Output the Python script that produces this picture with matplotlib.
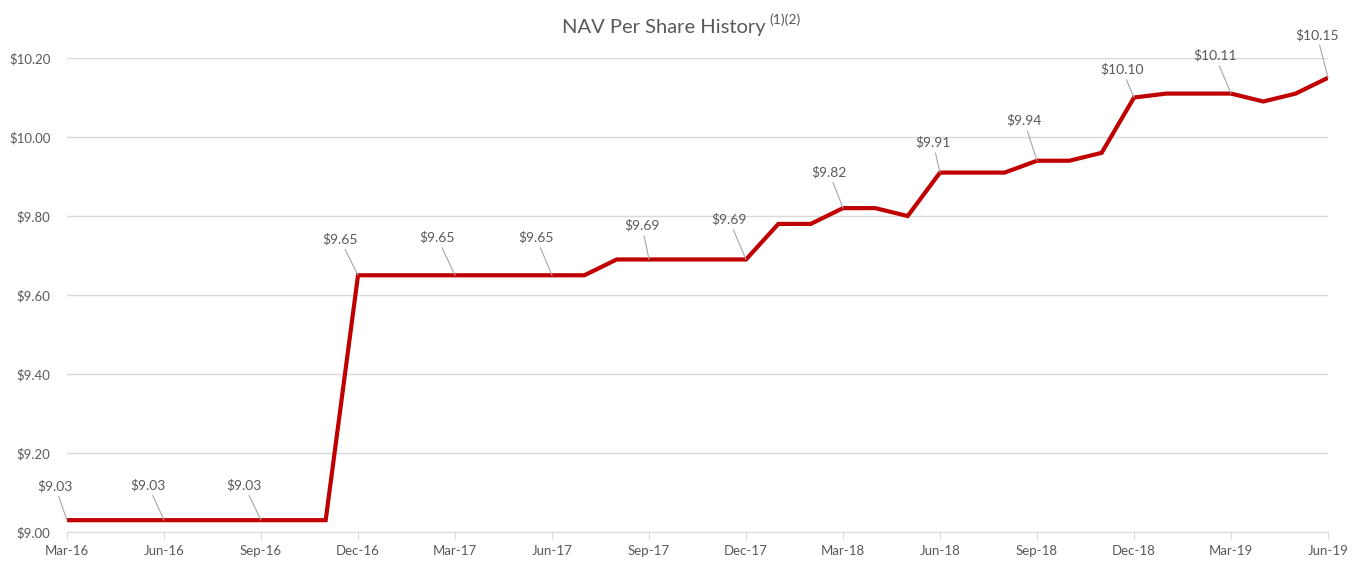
import matplotlib
matplotlib.use("Agg")
import matplotlib.pyplot as plt
from matplotlib.ticker import FuncFormatter, MultipleLocator
import pandas as pd

# month-end NAV values, Mar-16 .. Jun-19
months = pd.date_range("2016-03-01", "2019-06-01", freq="MS").strftime("%b-%y").tolist()
nav = [9.03, 9.03, 9.03, 9.03, 9.03, 9.03, 9.03, 9.03, 9.03,
       9.65, 9.65, 9.65, 9.65, 9.65, 9.65, 9.65, 9.65,
       9.69, 9.69, 9.69, 9.69, 9.69,
       9.78, 9.78, 9.82, 9.82, 9.80,
       9.91, 9.91, 9.91, 9.94, 9.94, 9.96,
       10.10, 10.11, 10.11, 10.11, 10.09, 10.11, 10.15]

# which points get a value label (quarter ends)
label_idx = list(range(0, len(months), 3))
# label offsets in pixels (dx, dy) from the point
label_offsets = [(-12, 34), (-16, 35), (-17, 35), (-18, 36), (-18, 38), (-16, 38), (-7, 34),
                 (-17, 40), (-14, 36), (-7, 30), (-13, 40), (-12, 28), (-16, 38), (-11, 43)]

plt.rcParams['font.family'] = ['Lato', 'DejaVu Sans']
txt = '#595959'
grid = '#D9D9D9'

fig = plt.figure(figsize=(13.65, 5.69), dpi=100)
ax = fig.add_axes([0.0491, 0.065, 0.9238, 0.833])

x = list(range(len(months)))
ax.plot(x, nav, color='#C00000', lw=3, solid_joinstyle='miter', zorder=3)

for i, (dx, dy) in zip(label_idx, label_offsets):
    ax.annotate('\\$%.2f' % nav[i], xy=(i, nav[i]), xytext=(dx, dy),
                textcoords='offset pixels', ha='center', va='center',
                fontsize=10, color=txt,
                arrowprops=dict(arrowstyle='-', color='#A6A6A6', lw=0.8,
                                shrinkA=1, shrinkB=0), zorder=4)

ax.set_xlim(0, len(months) - 1)
ax.set_ylim(9.0, 10.2)
ax.yaxis.set_major_locator(MultipleLocator(0.2))
ax.yaxis.set_major_formatter(FuncFormatter(lambda v, p: '\\$%.2f' % v))
ax.set_xticks(x[::3])
ax.set_xticklabels(months[::3])
ax.grid(axis='y', color=grid, lw=1)
ax.set_axisbelow(True)
for s in ['top', 'right', 'left']:
    ax.spines[s].set_visible(False)
ax.spines['bottom'].set_color(grid)
ax.tick_params(axis='y', length=0, pad=12, labelsize=9.5, labelcolor=txt)
ax.tick_params(axis='x', length=5, color=grid, pad=4, labelsize=9.5, labelcolor=txt)

fig.text(0.4865, 0.952, 'NAV Per Share History', ha='center', va='center',
         fontsize=14.5, color=txt)
fig.text(0.5635, 0.966, '(1)(2)', ha='left', va='center', fontsize=10, color=txt)

fig.savefig('out.png', dpi=100)
